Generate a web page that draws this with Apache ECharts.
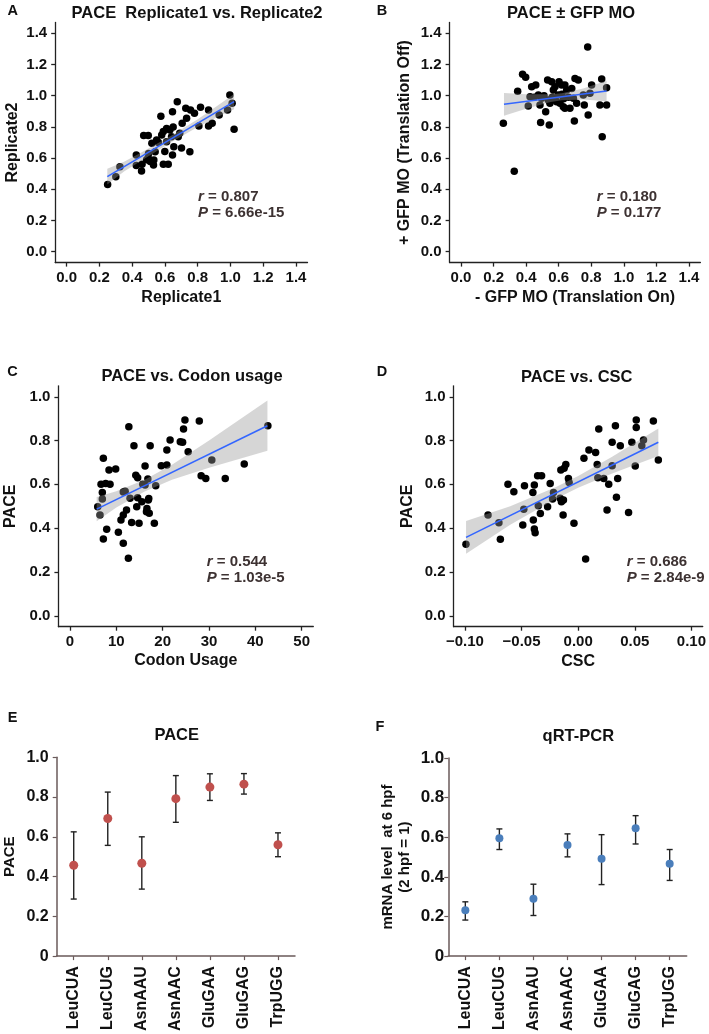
<!DOCTYPE html>
<html>
<head>
<meta charset="utf-8">
<script src="https://cdn.jsdelivr.net/npm/echarts@6/dist/echarts.min.js"></script>
<style>
html,body{margin:0;padding:0;background:#fff}
#main{width:709px;height:1034px}
</style>
</head>
<body>
<div id="main"></div>
<script>
var FONT = '"Liberation Sans", Arial, sans-serif';

// A: PACE replicate 1 vs replicate 2
var repA = [[0.25,0.43],[0.30,0.48],[0.325,0.545],[0.425,0.62],[0.425,0.553],[0.457,0.517],[0.46,0.56],
	[0.47,0.745],[0.498,0.745],[0.488,0.59],[0.498,0.60],[0.51,0.578],[0.52,0.695],[0.532,0.588],[0.53,0.556],
	[0.549,0.716],[0.56,0.70],[0.575,0.868],[0.58,0.748],[0.59,0.77],[0.599,0.643],[0.59,0.56],[0.62,0.56],
	[0.61,0.705],[0.61,0.79],[0.63,0.78],[0.64,0.737],[0.646,0.897],[0.65,0.80],[0.654,0.673],[0.646,0.62],
	[0.675,0.962],[0.681,0.737],[0.69,0.76],[0.701,0.665],[0.705,0.823],[0.727,0.919],[0.732,0.855],
	[0.752,0.641],[0.756,0.908],[0.78,0.887],[0.807,0.806],[0.817,0.926],[0.866,0.908],[0.866,0.806],
	[0.888,0.823],[0.931,0.876],[0.982,0.908],[0.996,1.004],[1.01,0.951],[1.022,0.785],[0.54,0.64],[0.50,0.63]];
var fitA = [[0.248,0.481],[1.022,0.962]];
var bandA = [[0.248,0.431,0.531],[0.35,0.514,0.576],[0.45,0.580,0.633],[0.64,0.704,0.745],
	[0.80,0.799,0.849],[0.92,0.863,0.935],[1.022,0.913,1.011]];
var ticksAB = [0,0.2,0.4,0.6,0.8,1.0,1.2,1.4];

// B: PACE +/- GFP MO
var gfpB = [[0.778,1.312],[0.378,1.137],[0.397,1.118],[0.348,1.028],[0.26,0.823],[0.327,0.515],[0.434,1.058],
	[0.459,1.069],[0.424,0.994],[0.413,0.934],[0.475,1.004],[0.495,0.983],[0.485,0.94],[0.52,0.897],[0.489,0.829],
	[0.542,0.812],[0.532,1.10],[0.557,1.09],[0.577,1.058],[0.567,1.037],[0.602,1.09],[0.618,1.069],[0.638,1.069],
	[0.649,1.037],[0.597,1.004],[0.536,0.972],[0.546,0.951],[0.587,0.961],[0.608,0.951],[0.628,0.929],[0.638,0.919],
	[0.669,0.919],[0.68,1.047],[0.70,1.111],[0.72,1.101],[0.69,0.983],[0.71,0.951],[0.696,0.838],[0.751,1.004],
	[0.757,0.94],[0.781,0.876],[0.802,1.069],[0.792,1.015],[0.864,1.107],[0.894,1.051],[0.853,0.94],[0.894,0.94],
	[0.867,0.737],[0.45,0.99],[0.51,1.0],[0.56,0.99],[0.62,1.01],[0.63,0.98],[0.66,0.99]];
var fitB = [[0.264,0.945],[0.894,1.030]];
var bandB = [[0.264,0.872,1.018],[0.40,0.917,1.009],[0.55,0.959,1.009],[0.62,0.971,1.015],
	[0.75,0.976,1.046],[0.894,0.964,1.096]];

// C: PACE vs codon usage
var codonC = [[5.98,0.498],[6.48,0.46],[6.98,0.533],[6.98,0.563],[6.7,0.6],[7.2,0.719],[7.7,0.604],[8.64,0.6],
	[8.42,0.665],[9.86,0.67],[7.92,0.395],[7.2,0.35],[10.44,0.381],[11.5,0.331],[12.6,0.262],[11.0,0.437],
	[11.5,0.46],[11.9,0.569],[12.2,0.483],[12.7,0.863],[13.8,0.776],[13.3,0.426],[12.96,0.536],[14.2,0.642],
	[14.6,0.63],[14.6,0.539],[14.9,0.422],[15.5,0.521],[14.4,0.498],[16.2,0.684],[16.2,0.597],[16.8,0.624],
	[16.6,0.49],[17.1,0.468],[16.9,0.528],[17.3,0.776],[18.2,0.422],[18.5,0.594],[19.7,0.685],[20.9,0.688],
	[20.9,0.757],[21.6,0.802],[23.8,0.795],[24.3,0.792],[24.5,0.853],[24.8,0.894],[25.5,0.749],[27.9,0.889],
	[28.3,0.639],[29.3,0.627],[30.6,0.711],[33.5,0.627],[37.6,0.693],[42.7,0.868],[11.5,0.565],[15.7,0.60],
	[16.5,0.475],[17.0,0.535]];
var fitC = [[5.76,0.487],[42.6,0.868]];
var bandC = [[5.76,0.432,0.542],[10,0.494,0.568],[16,0.566,0.620],[22,0.621,0.689],[30,0.676,0.800],[42.6,0.753,0.983]];
var ticksCx = [0,10,20,30,40,50];
var ticksCDy = [0,0.2,0.4,0.6,0.8,1.0];

// D: PACE vs CSC
var cscD = [[-0.0991,0.326],[-0.0796,0.46],[-0.070,0.425],[-0.0687,0.349],[-0.062,0.60],[-0.0568,0.566],
	[-0.0489,0.414],[-0.0474,0.594],[-0.048,0.486],[-0.040,0.563],[-0.0396,0.437],[-0.0387,0.396],[-0.038,0.379],
	[-0.0387,0.597],[-0.0358,0.639],[-0.0323,0.639],[-0.0352,0.502],[-0.0334,0.467],[-0.027,0.498],[-0.0247,0.604],
	[-0.0218,0.563],[-0.0226,0.533],[-0.0153,0.665],[-0.0124,0.673],[-0.0109,0.691],[-0.0159,0.536],[-0.0148,0.521],
	[-0.013,0.528],[-0.0086,0.627],[-0.008,0.609],[-0.0133,0.46],[-0.0037,0.422],[0.0051,0.719],[0.0095,0.757],
	[0.0154,0.746],[0.0182,0.853],[0.0066,0.259],[0.0168,0.691],[0.0174,0.63],[0.0226,0.627],[0.027,0.601],
	[0.030,0.685],[0.030,0.792],[0.0329,0.868],[0.0349,0.627],[0.0338,0.541],[0.0372,0.776],[0.0255,0.483],
	[0.0445,0.472],[0.0474,0.792],[0.0504,0.684],[0.0513,0.894],[0.0513,0.86],[0.0577,0.802],[0.0562,0.776],
	[0.0664,0.889],[0.0708,0.711]];
var fitD = [[-0.099,0.358],[0.0708,0.792]];
var bandD = [[-0.099,0.283,0.433],[-0.06,0.416,0.500],[-0.02,0.533,0.587],[0.0,0.584,0.638],[0.03,0.650,0.726],[0.0708,0.729,0.855]];
var ticksDx = [-0.10,-0.05,0,0.05,0.10];

// E / F
var codons = ['LeuCUA','LeuCUG','AsnAAU','AsnAAC','GluGAA','GluGAG','TrpUGG'];
var paceMean = [0.457,0.692,0.467,0.792,0.85,0.865,0.56];
var paceLow  = [0.287,0.557,0.337,0.673,0.783,0.815,0.50];
var paceHigh = [0.625,0.825,0.600,0.908,0.917,0.918,0.62];
var qpcrMean = [0.232,0.595,0.289,0.561,0.491,0.645,0.466];
var qpcrLow  = [0.182,0.538,0.205,0.501,0.361,0.566,0.382];
var qpcrHigh = [0.274,0.642,0.363,0.617,0.613,0.709,0.538];

var chart = echarts.init(document.getElementById('main'));

function f1(v) { return v.toFixed(1); }
function fCsc(v) { var s = Math.abs(v).toFixed(2); return v < -1e-9 ? '\u2212' + s : s; }
function fInt(v) { return String(Math.round(v)); }

function valAxis(gi, min, max, ticks, fmt, name, gap) {
	return {
		type: 'value', gridIndex: gi, min: min, max: max,
		name: name, nameLocation: 'middle', nameGap: gap,
		nameTextStyle: {fontFamily: FONT, fontWeight: 'bold', fontSize: 16, color: '#111'},
		axisLine: {show: true, onZero: false, lineStyle: {color: '#222', width: 1.3}},
		axisTick: {show: true, length: 4, customValues: ticks, lineStyle: {color: '#222', width: 1.3}},
		axisLabel: {customValues: ticks, formatter: fmt, fontFamily: FONT, fontWeight: 'bold', fontSize: 15, color: '#111', margin: 8},
		splitLine: {show: false}
	};
}

function dots(gi, data) {
	return {type: 'scatter', xAxisIndex: gi, yAxisIndex: gi, data: data, symbolSize: 7.5,
		itemStyle: {color: '#000', opacity: 1}, z: 2, silent: true};
}
function band(gi, b) {
	return {type: 'custom', xAxisIndex: gi, yAxisIndex: gi, data: [[b[0][0], b[0][1]]], z: 3, silent: true,
		renderItem: function (params, api) {
			var up = [], lo = [];
			b.forEach(function (p) {
				up.push(api.coord([p[0], p[2]]));
				lo.unshift(api.coord([p[0], p[1]]));
			});
			return {type: 'polygon', shape: {points: up.concat(lo)}, style: {fill: 'rgba(153,153,153,0.4)'}};
		}};
}
function fit(gi, d) {
	return {type: 'line', xAxisIndex: gi, yAxisIndex: gi, data: d, symbol: 'none', silent: true,
		lineStyle: {color: '#3366FF', width: 1.6}, z: 4};
}
function errBars(gi, lowArr, highArr) {
	return {type: 'custom', xAxisIndex: gi, yAxisIndex: gi, z: 3, silent: true,
		data: codons.map(function (c, i) { return [i, lowArr[i], highArr[i]]; }),
		renderItem: function (params, api) {
			var lo = api.coord([api.value(0), api.value(1)]);
			var hi = api.coord([api.value(0), api.value(2)]);
			var w = 3, st = {stroke: '#222', lineWidth: 1.4};
			return {type: 'group', children: [
				{type: 'line', shape: {x1: lo[0], y1: lo[1], x2: hi[0], y2: hi[1]}, style: st},
				{type: 'line', shape: {x1: hi[0] - w, y1: hi[1], x2: hi[0] + w, y2: hi[1]}, style: st},
				{type: 'line', shape: {x1: lo[0] - w, y1: lo[1], x2: lo[0] + w, y2: lo[1]}, style: st}
			]};
		}};
}
function catAxis(gi) {
	return {
		type: 'category', gridIndex: gi, data: codons, boundaryGap: true,
		axisLine: {show: true, onZero: false, lineStyle: {color: '#6a5a5a', width: 1.5}},
		axisTick: {show: true, alignWithLabel: true, length: 4, lineStyle: {color: '#6a5a5a', width: 1.2}},
		axisLabel: {rotate: 90, interval: 0, fontFamily: FONT, fontWeight: 'bold', fontSize: 16, color: '#111', margin: 10},
		splitLine: {show: false}
	};
}
function efAxis(gi, name, gap, size, margin) {
	return {
		type: 'value', gridIndex: gi, min: 0, max: 1, interval: 0.2,
		name: name, nameLocation: 'middle', nameGap: gap,
		nameTextStyle: {fontFamily: FONT, fontWeight: 'bold', fontSize: 15, lineHeight: 17, color: '#111'},
		axisLine: {show: true, lineStyle: {color: '#6a5a5a', width: 1.5}},
		axisTick: {show: true, length: 4, lineStyle: {color: '#6a5a5a', width: 1.2}},
		axisLabel: {formatter: function (v) { return v === 0 ? '0' : v.toFixed(1); },
			fontFamily: FONT, fontWeight: 'bold', fontSize: size, color: '#111', margin: margin},
		splitLine: {show: false}
	};
}

function txt(x, y, s, size, align, color) {
	return {type: 'text', x: x, y: y, silent: true, style: {text: s, fill: color || '#111',
		font: 'bold ' + size + 'px ' + FONT, textAlign: align || 'center', textVerticalAlign: 'middle'}};
}
function stat(x, y, sym, rest) {
	var tok = {fontFamily: FONT, fontWeight: 'bold', fontSize: 15, fill: '#3d3232'};
	return {type: 'text', x: x, y: y, silent: true, style: {
		text: '{i|' + sym + '}{n|' + rest + '}',
		font: 'bold 15px ' + FONT, fill: '#3d3232', textAlign: 'left', textVerticalAlign: 'middle',
		rich: {i: Object.assign({fontStyle: 'italic'}, tok), n: tok}}};
}

var option = {
	animation: false,
	backgroundColor: '#fff',
	grid: [
		{left: 55.2, top: 22.4, width: 252.3, height: 240.2},
		{left: 449.6, top: 22.4, width: 250.8, height: 240.2},
		{left: 58.4, top: 385.8, width: 254.9, height: 240.9},
		{left: 453.6, top: 385.8, width: 251.1, height: 240.9},
		{left: 56.7, top: 757.3, width: 238.3, height: 200},
		{left: 448.3, top: 758, width: 238.4, height: 199}
	],
	xAxis: [
		valAxis(0, -0.07, 1.47, ticksAB, f1, 'Replicate1', 27),
		valAxis(1, -0.07, 1.47, ticksAB, f1, '- GFP MO (Translation On)', 27),
		valAxis(2, -2.5, 52.5, ticksCx, fInt, 'Codon Usage', 26),
		valAxis(3, -0.11, 0.11, ticksDx, fCsc, 'CSC', 27),
		catAxis(4),
		catAxis(5)
	],
	yAxis: [
		valAxis(0, -0.07, 1.47, ticksAB, f1, 'Replicate2', 35),
		valAxis(1, -0.07, 1.47, ticksAB, f1, '+ GFP MO (Translation Off)', 37),
		valAxis(2, -0.05, 1.05, ticksCDy, f1, 'PACE', 40),
		valAxis(3, -0.05, 1.05, ticksCDy, f1, 'PACE', 38),
		efAxis(4, 'PACE', 38, 16, 8),
		efAxis(5, 'mRNA level  at 6 hpf\n(2 hpf = 1)', 35, 17, 4)
	],
	series: [
		dots(0, repA), band(0, bandA), fit(0, fitA),
		dots(1, gfpB), band(1, bandB), fit(1, fitB),
		dots(2, codonC), band(2, bandC), fit(2, fitC),
		dots(3, cscD), band(3, bandD), fit(3, fitD),
		errBars(4, paceLow, paceHigh),
		{type: 'scatter', xAxisIndex: 4, yAxisIndex: 4, data: paceMean, symbolSize: 9, z: 5, silent: true,
			itemStyle: {color: '#c0504d', opacity: 1}},
		errBars(5, qpcrLow, qpcrHigh),
		{type: 'scatter', xAxisIndex: 5, yAxisIndex: 5, data: qpcrMean, symbolSize: 8, z: 5, silent: true,
			itemStyle: {color: '#4a7ebb', opacity: 1}}
	],
	graphic: [
		txt(12.7, 10.5, 'A', 14.5), txt(382, 10.5, 'B', 14.5),
		txt(12.5, 371.7, 'C', 14.5), txt(382, 371.7, 'D', 14.5),
		txt(12.5, 718.3, 'E', 14.5), txt(380, 726.7, 'F', 14.5),
		txt(197, 13.3, 'PACE  Replicate1 vs. Replicate2', 16.5),
		txt(571, 13.3, 'PACE \u00b1 GFP MO', 16.5),
		txt(192, 376.7, 'PACE vs. Codon usage', 16.5),
		txt(576.7, 377, 'PACE vs. CSC', 16.5),
		txt(176.7, 735, 'PACE', 16.5),
		txt(578.3, 736.7, 'qRT-PCR', 16.5),
		stat(198, 197, 'r', ' = 0.807'), stat(198, 213.3, 'P', ' = 6.66e-15'),
		stat(596.7, 197, 'r', ' = 0.180'), stat(596.7, 213.3, 'P', ' = 0.177'),
		stat(206.7, 561.7, 'r', ' = 0.544'), stat(206.7, 578.3, 'P', ' = 1.03e-5'),
		stat(626.7, 561.7, 'r', ' = 0.686'), stat(626.7, 578.3, 'P', ' = 2.84e-9')
	]
};
chart.setOption(option);
</script>
</body>
</html>
